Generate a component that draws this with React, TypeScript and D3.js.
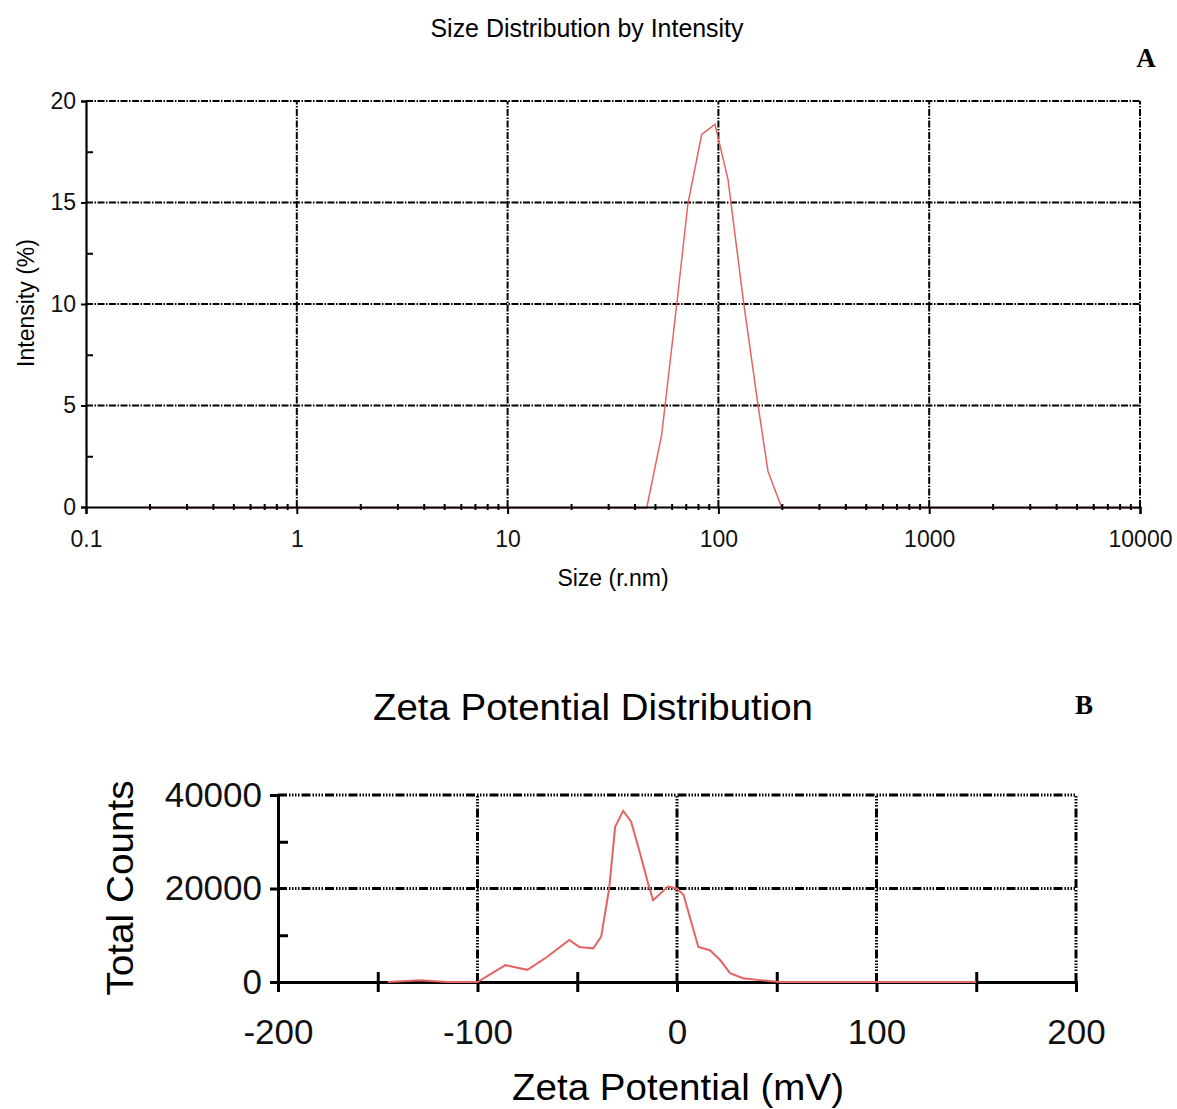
import React, { useEffect, useRef } from 'react'
import * as d3 from 'd3'

// panel A - size distribution by intensity
const sizeNm = [0.2, 45.7, 53.8, 63.4, 71.7, 83.3, 96.3, 111, 131, 154, 172, 200, 10000]
const intensityPct = [0, 0, 3.6, 10, 15, 18.4, 18.9, 16.2, 10.3, 5.1, 1.8, 0, 0]
const sizeTicks = [0.1, 1, 10, 100, 1000, 10000]
const intensityTicks = [0, 5, 10, 15, 20]
const intensityMinor = [2.5, 7.5, 12.5, 17.5]

// panel B - zeta potential distribution
const zetaMv = [-145, -129, -115, -100, -86, -75, -65, -54, -49, -42, -38, -34, -31, -27, -23, -18.5, -14.5, -12, -4.5, 0, 3.3, 10.7, 16.5, 21.6, 26.6, 33, 41.6, 51.6, 150]
const totalCounts = [0, 400, 0, 0, 3600, 2600, 5400, 9000, 7500, 7200, 9700, 20000, 33200, 36600, 34300, 27500, 21100, 17500, 20400, 20000, 18600, 7500, 6800, 4700, 1900, 800, 400, 0, 0]
const zetaTicks = [-200, -100, 0, 100, 200]
const zetaMinor = [-150, -50, 50, 150]
const countTicks = [0, 20000, 40000]
const countMinor = [10000, 30000]

const FONT = "'Liberation Sans', Arial, sans-serif"
const SERIF = "'Liberation Serif', 'Times New Roman', serif"
const RED = '#e46464'

export default function App() {
  const ref = useRef<SVGSVGElement>(null)

  useEffect(() => {
    const svg = d3.select(ref.current)
    svg.selectAll('*').remove()

    // ---------- A ----------
    const x = d3.scaleLog().domain([0.1, 10000]).range([86, 1140])
    const y = d3.scaleLinear().domain([0, 20]).range([507, 101])
    const a = svg.append('g')

    a.append('text').attr('x', 587).attr('y', 37).attr('text-anchor', 'middle')
      .attr('font-family', FONT).attr('font-size', 25).attr('textLength', 313)
      .attr('lengthAdjust', 'spacingAndGlyphs').text('Size Distribution by Intensity')
    a.append('text').attr('x', 1146).attr('y', 67).attr('text-anchor', 'middle')
      .attr('font-family', SERIF).attr('font-weight', 'bold').attr('font-size', 27).text('A')

    const gridA = '7,1.5,1.5,1.5'
    a.append('g').selectAll('line').data(intensityTicks.slice(1)).join('line')
      .attr('x1', x(0.1)).attr('x2', x(10000)).attr('y1', d => y(d)).attr('y2', d => y(d))
      .attr('stroke', '#000').attr('stroke-width', 2).attr('stroke-dasharray', gridA)
    a.append('g').selectAll('line').data(sizeTicks.slice(1)).join('line')
      .attr('x1', d => x(d)).attr('x2', d => x(d)).attr('y1', y(0)).attr('y2', y(20))
      .attr('stroke', '#000').attr('stroke-width', 2).attr('stroke-dasharray', gridA)

    const lineA = d3.line<number>().x((d, i) => x(sizeNm[i])).y(d => y(d))
    a.append('path').datum(intensityPct).attr('d', lineA).attr('fill', 'none')
      .attr('stroke', RED).attr('stroke-width', 1.5).attr('transform', 'translate(0,1)')

    const minorX: number[] = []
    for (const dec of [0.1, 1, 10, 100, 1000]) for (let k = 2; k < 10; k++) minorX.push(dec * k)

    const xAxis = a.append('g').attr('transform', `translate(0,${y(0)})`)
      .call(d3.axisBottom(x).tickValues(sizeTicks).tickSize(7).tickPadding(17)
        .tickFormat(d => String(d)))
    a.append('g').attr('transform', `translate(0,${y(0) - 3})`)
      .call(d3.axisBottom(x).tickValues(minorX).tickSize(6).tickFormat(() => ''))
      .call(g => g.select('.domain').remove())
    const yAxis = a.append('g').attr('transform', `translate(${x(0.1)},0)`)
      .call(d3.axisLeft(y).tickValues(intensityTicks).tickSize(5).tickPadding(5))
    a.append('g').attr('transform', `translate(${x(0.1)},0)`)
      .call(d3.axisRight(y).tickValues(intensityMinor).tickSize(7).tickFormat(() => ''))
      .call(g => g.select('.domain').remove())

    a.selectAll('.domain').attr('stroke-width', 2.2)
    a.selectAll('.tick line').attr('stroke-width', 2)
    for (const g of [xAxis, yAxis]) {
      g.selectAll('text').attr('font-family', FONT).attr('font-size', 23).attr('fill', '#111')
    }

    a.append('text').attr('x', 613).attr('y', 586).attr('text-anchor', 'middle')
      .attr('font-family', FONT).attr('font-size', 23).text('Size (r.nm)')
    a.append('text').attr('transform', 'translate(34,303) rotate(-90)').attr('text-anchor', 'middle')
      .attr('font-family', FONT).attr('font-size', 23).text('Intensity (%)')

    // ---------- B ----------
    const xb = d3.scaleLinear().domain([-200, 200]).range([278, 1076])
    const yb = d3.scaleLinear().domain([0, 40000]).range([982, 795])
    const b = svg.append('g')

    b.append('text').attr('x', 593).attr('y', 720).attr('text-anchor', 'middle')
      .attr('font-family', FONT).attr('font-size', 36).attr('textLength', 440)
      .attr('lengthAdjust', 'spacingAndGlyphs').text('Zeta Potential Distribution')
    b.append('text').attr('x', 1084).attr('y', 714).attr('text-anchor', 'middle')
      .attr('font-family', SERIF).attr('font-weight', 'bold').attr('font-size', 27).text('B')

    const gridB = '9,2,1.5,1.5,1.5,1.5,1.5,1.5,1.5,2'
    b.append('g').selectAll('line').data(countTicks.slice(1)).join('line')
      .attr('x1', xb(-200)).attr('x2', xb(200)).attr('y1', d => yb(d)).attr('y2', d => yb(d))
      .attr('stroke', '#000').attr('stroke-width', 3).attr('stroke-dasharray', gridB)
    b.append('g').selectAll('line').data(zetaTicks.slice(1)).join('line')
      .attr('x1', d => xb(d)).attr('x2', d => xb(d)).attr('y1', yb(0)).attr('y2', yb(40000))
      .attr('stroke', '#000').attr('stroke-width', 3).attr('stroke-dasharray', gridB)

    const xbAxis = b.append('g').attr('transform', `translate(0,${yb(0)})`)
      .call(d3.axisBottom(xb).tickValues(zetaTicks).tickSize(10).tickPadding(27)
        .tickFormat(d => String(d)))
    b.append('g').attr('transform', `translate(0,${yb(0) - 10})`)
      .call(d3.axisBottom(xb).tickValues(zetaMinor).tickSize(20).tickFormat(() => ''))
      .call(g => g.select('.domain').remove())
    const ybAxis = b.append('g').attr('transform', `translate(${xb(-200)},0)`)
      .call(d3.axisLeft(yb).tickValues(countTicks).tickSize(8).tickPadding(8).tickFormat(d => String(d)))
    b.append('g').attr('transform', `translate(${xb(-200)},0)`)
      .call(d3.axisRight(yb).tickValues(countMinor).tickSize(10).tickFormat(() => ''))
      .call(g => g.select('.domain').remove())

    b.selectAll('.domain').attr('stroke-width', 3)
    b.selectAll('.tick line').attr('stroke-width', 3)
    for (const g of [xbAxis, ybAxis]) {
      g.selectAll('text').attr('font-family', FONT).attr('font-size', 35).attr('fill', '#111')
    }

    const lineB = d3.line<number>().x((d, i) => xb(zetaMv[i])).y(d => yb(d))
    b.append('path').datum(totalCounts).attr('d', lineB).attr('fill', 'none')
      .attr('stroke', RED).attr('stroke-width', 2)

    b.append('text').attr('x', 678).attr('y', 1100).attr('text-anchor', 'middle')
      .attr('font-family', FONT).attr('font-size', 36).attr('textLength', 332)
      .attr('lengthAdjust', 'spacingAndGlyphs').text('Zeta Potential (mV)')
    b.append('text').attr('transform', 'translate(133,888) rotate(-90)').attr('text-anchor', 'middle')
      .attr('font-family', FONT).attr('font-size', 36).attr('textLength', 215)
      .attr('lengthAdjust', 'spacingAndGlyphs').text('Total Counts')
  }, [])

  return (
    <svg ref={ref} width={1177} height={1109}
      style={{ position: 'absolute', left: 0, top: 0, background: '#fff' }} />
  )
}
